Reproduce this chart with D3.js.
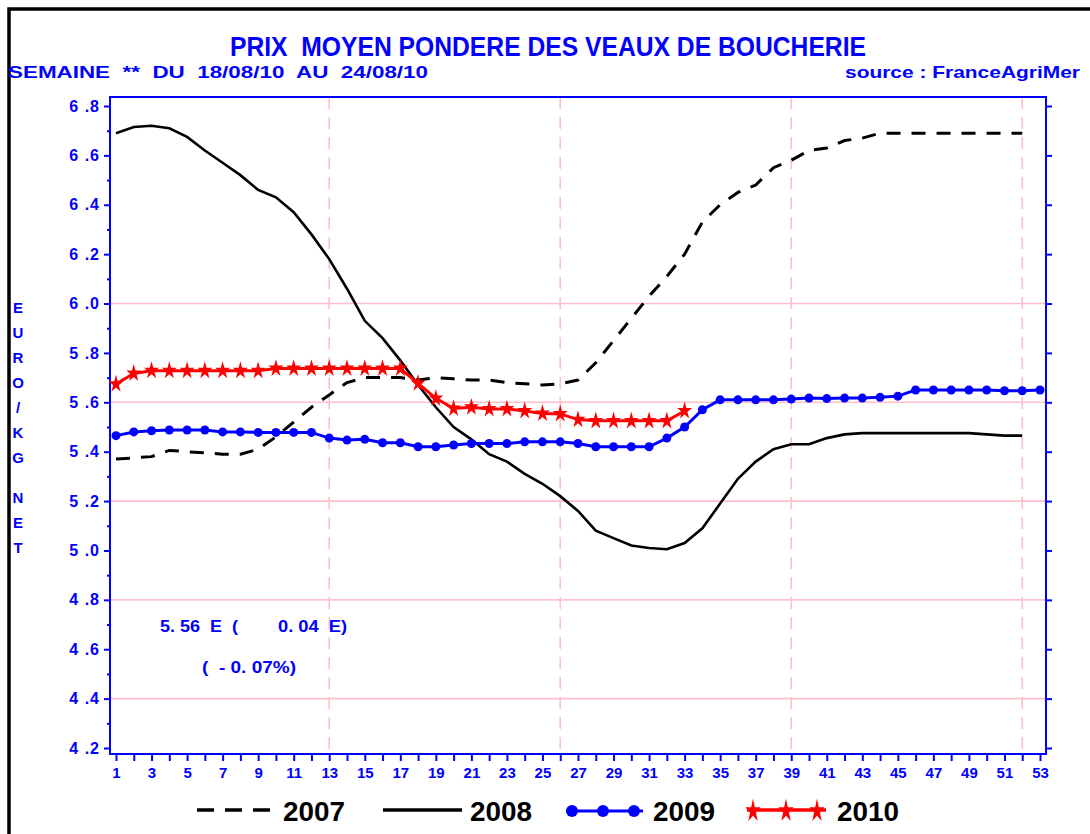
<!DOCTYPE html>
<html>
<head>
<meta charset="utf-8">
<script src="https://cdn.jsdelivr.net/npm/d3@7"></script>
<style>
body { margin:0; background:#fff; }
text { font-family: 'Liberation Sans', Arial, sans-serif; font-weight: bold; }
</style>
</head>
<body>
<div id="chart"></div>
<script>
var chartTitle = 'PRIX  MOYEN PONDERE DES VEAUX DE BOUCHERIE'
var subTitle = 'SEMAINE  **  DU  18/08/10  AU  24/08/10'
var sourceLabel = 'source : FranceAgriMer'
var yAxisLabel = 'EURO/KG NET'

var weekTicks = [1,2,3,4,5,6,7,8,9,10,11,12,13,14,15,16,17,18,19,20,21,22,23,24,25,26,27,
                 28,29,30,31,32,33,34,35,36,37,38,39,40,41,42,43,44,45,46,47,48,49,50,51,52,53]
var weekLabels = [1,3,5,7,9,11,13,15,17,19,21,23,25,27,29,31,33,35,37,39,41,43,45,47,49,51,53]
var quarterWeeks = [13, 26, 39, 52]
var yTicks = [4.2, 4.4, 4.6, 4.8, 5.0, 5.2, 5.4, 5.6, 5.8, 6.0, 6.2, 6.4, 6.6, 6.8]
var yMinorTicks = [4.3, 4.5, 4.7, 4.9, 5.1, 5.3, 5.5, 5.7, 5.9, 6.1, 6.3, 6.5, 6.7]
var gridValues = [4.4, 4.8, 5.2, 5.6, 6.0]

// prix moyen par semaine (euro/kg net)
var price2007 = [5.37, 5.375, 5.38, 5.405, 5.40, 5.395, 5.39, 5.39, 5.41, 5.46,
                 5.52, 5.58, 5.63, 5.68, 5.70, 5.70, 5.70, 5.69, 5.70, 5.695,
                 5.69, 5.69, 5.68, 5.675, 5.67, 5.675, 5.69, 5.76, 5.85, 5.94,
                 6.03, 6.11, 6.20, 6.33, 6.40, 6.45, 6.48, 6.55, 6.58, 6.62,
                 6.63, 6.66, 6.67, 6.69, 6.69, 6.69, 6.69, 6.69, 6.69, 6.69,
                 6.69, 6.69]
var price2008 = [6.69, 6.715, 6.72, 6.71, 6.675, 6.62, 6.57, 6.52, 6.46, 6.43,
                 6.37, 6.28, 6.18, 6.06, 5.93, 5.86, 5.77, 5.67, 5.58, 5.50,
                 5.45, 5.39, 5.36, 5.31, 5.27, 5.22, 5.16, 5.08, 5.05, 5.02,
                 5.01, 5.005, 5.03, 5.09, 5.19, 5.29, 5.36, 5.41, 5.43, 5.43,
                 5.455, 5.47, 5.475, 5.475, 5.475, 5.475, 5.475, 5.475, 5.475, 5.47,
                 5.465, 5.465]
var price2009 = [5.465, 5.48, 5.485, 5.488, 5.488, 5.488, 5.48, 5.48, 5.478, 5.478,
                 5.478, 5.478, 5.455, 5.447, 5.45, 5.436, 5.436, 5.42, 5.42, 5.427,
                 5.433, 5.433, 5.433, 5.44, 5.44, 5.44, 5.433, 5.42, 5.42, 5.42,
                 5.42, 5.455, 5.50, 5.57, 5.61, 5.61, 5.61, 5.61, 5.613, 5.617,
                 5.615, 5.617, 5.617, 5.62, 5.625, 5.65, 5.65, 5.65, 5.65, 5.65,
                 5.647, 5.647, 5.65]
var price2010 = [5.674, 5.717, 5.728, 5.728, 5.728, 5.728, 5.728, 5.728, 5.728, 5.737,
                 5.737, 5.737, 5.737, 5.737, 5.737, 5.737, 5.737, 5.677, 5.616, 5.575,
                 5.58, 5.573, 5.573, 5.565, 5.555, 5.553, 5.53, 5.525, 5.525, 5.525,
                 5.525, 5.525, 5.565]
var seriesNames = ['2007', '2008', '2009', '2010']

var lastPrice = '5. 56  E  ('
var lastChange = '0. 04  E)'
var lastPct = '(  - 0. 07%)'

var blue = '#0000ff', red = '#ff0000', pink = '#ffc0cb';
var svg, xScale, yScale, line;

function GenerateGlobals() {
  svg = d3.select('#chart')
          .append('svg')
          .attr('width', 1090)
          .attr('height', 834);

  xScale = d3.scaleLinear().domain([1, 53]).range([116, 1040]);
  yScale = d3.scaleLinear().domain([4.2, 6.8]).range([748, 106]);

  line = d3.line()
      .x(function(d, i) { return xScale(i + 1); })
      .y(function(d) { return yScale(d); });
}

function DrawStatics() {
  // outer black frame
  svg.append('rect')
     .attr('x', 9).attr('y', 9)
     .attr('width', 1200).attr('height', 1000)
     .attr('fill', 'none').attr('stroke', '#000').attr('stroke-width', 3.5);

  svg.append('text')
     .attr('x', 230).attr('y', 56)
     .attr('textLength', 636).attr('lengthAdjust', 'spacingAndGlyphs')
     .attr('font-size', 27).attr('fill', blue)
     .attr('xml:space', 'preserve')
     .text(chartTitle);

  svg.append('text')
     .attr('x', 8).attr('y', 78)
     .attr('textLength', 420).attr('lengthAdjust', 'spacingAndGlyphs')
     .attr('font-size', 17).attr('fill', blue)
     .attr('xml:space', 'preserve')
     .text(subTitle);

  svg.append('text')
     .attr('x', 845).attr('y', 78)
     .attr('textLength', 235).attr('lengthAdjust', 'spacingAndGlyphs')
     .attr('font-size', 17).attr('fill', blue)
     .attr('xml:space', 'preserve')
     .text(sourceLabel);

  // y label, one letter under the other
  var ly = 313;
  yAxisLabel.split('').forEach(function(c) {
    if (c == ' ') { ly += 15; return; }
    svg.append('text')
       .attr('x', 18).attr('y', ly)
       .attr('text-anchor', 'middle')
       .attr('font-size', 15).attr('fill', blue)
       .text(c);
    ly += 25;
  });

  // grid
  svg.append('g').selectAll('line')
     .data(gridValues).enter().append('line')
     .attr('x1', 110).attr('x2', 1046)
     .attr('y1', function(d) { return yScale(d); })
     .attr('y2', function(d) { return yScale(d); })
     .attr('stroke', pink).attr('stroke-width', 1.6);

  svg.append('g').selectAll('line')
     .data(quarterWeeks).enter().append('line')
     .attr('x1', function(d) { return xScale(d); })
     .attr('x2', function(d) { return xScale(d); })
     .attr('y1', 97).attr('y2', 754)
     .attr('stroke', pink).attr('stroke-width', 1.6)
     .attr('stroke-dasharray', '12,8');

  // frame
  svg.append('rect')
     .attr('x', 110).attr('y', 97)
     .attr('width', 936).attr('height', 657)
     .attr('fill', 'none').attr('stroke', blue).attr('stroke-width', 2);

  // left axis
  var yAxis = d3.axisLeft(yScale).tickValues(yTicks).tickSize(6).tickPadding(4)
      .tickFormat(function(d) { return d.toFixed(1).replace('.', ' .'); });
  var ya = svg.append('g').attr('transform', 'translate(110,0)').call(yAxis);
  ya.select('.domain').remove();
  ya.selectAll('line').attr('stroke', blue).attr('stroke-width', 2);
  ya.selectAll('text').attr('fill', blue).attr('font-size', 16)
    .attr('font-family', null).style('letter-spacing', '1px');

  var yMinor = d3.axisLeft(yScale).tickValues(yMinorTicks).tickSize(3).tickFormat('');
  var ym = svg.append('g').attr('transform', 'translate(110,0)').call(yMinor);
  ym.select('.domain').remove();
  ym.selectAll('line').attr('stroke', blue).attr('stroke-width', 2);

  // right axis
  var yRight = d3.axisRight(yScale).tickValues(yTicks).tickSize(6).tickFormat('');
  var yr = svg.append('g').attr('transform', 'translate(1046,0)').call(yRight);
  yr.select('.domain').remove();
  yr.selectAll('line').attr('stroke', blue).attr('stroke-width', 2);

  // bottom axis
  var xAxis = d3.axisBottom(xScale).tickValues(weekTicks).tickSize(7).tickPadding(6)
      .tickFormat(function(d) { return weekLabels.indexOf(d) >= 0 ? d : ''; });
  var xa = svg.append('g').attr('transform', 'translate(0,754)').call(xAxis);
  xa.select('.domain').remove();
  xa.selectAll('line').attr('stroke', blue).attr('stroke-width', 2);
  xa.selectAll('text').attr('fill', blue).attr('font-size', 15).attr('font-family', null);

  // last week note
  svg.append('text').attr('x', 160).attr('y', 632)
     .attr('textLength', 78).attr('lengthAdjust', 'spacingAndGlyphs')
     .attr('font-size', 16).attr('fill', blue).attr('xml:space', 'preserve')
     .text(lastPrice);
  svg.append('text').attr('x', 278).attr('y', 632)
     .attr('textLength', 69).attr('lengthAdjust', 'spacingAndGlyphs')
     .attr('font-size', 16).attr('fill', blue).attr('xml:space', 'preserve')
     .text(lastChange);
  svg.append('text').attr('x', 202).attr('y', 673)
     .attr('textLength', 94).attr('lengthAdjust', 'spacingAndGlyphs')
     .attr('font-size', 16).attr('fill', blue).attr('xml:space', 'preserve')
     .text(lastPct);
}

function starPath(size) {
  return d3.symbol().type(d3.symbolStar).size(size)();
}

function DrawData() {
  svg.append('path').datum(price2007)
     .attr('d', line).attr('fill', 'none')
     .attr('stroke', '#000').attr('stroke-width', 3)
     .attr('stroke-dasharray', '14,11');

  svg.append('path').datum(price2008)
     .attr('d', line).attr('fill', 'none')
     .attr('stroke', '#000').attr('stroke-width', 2.6);

  svg.append('path').datum(price2009)
     .attr('d', line).attr('fill', 'none')
     .attr('stroke', blue).attr('stroke-width', 3);
  svg.append('g').selectAll('circle')
     .data(price2009).enter().append('circle')
     .attr('cx', function(d, i) { return xScale(i + 1); })
     .attr('cy', function(d) { return yScale(d); })
     .attr('r', 4.5).attr('fill', blue);

  svg.append('path').datum(price2010)
     .attr('d', line).attr('fill', 'none')
     .attr('stroke', red).attr('stroke-width', 3);
  svg.append('g').selectAll('path')
     .data(price2010).enter().append('path')
     .attr('d', starPath(68))
     .attr('transform', function(d, i) {
        return 'translate(' + xScale(i + 1) + ',' + yScale(d) + ') scale(1,1.2)';
     })
     .attr('fill', red);
}

function DrawLegend() {
  var ly = 810, ty = 821;
  var items = [
    {x1: 197, x2: 272, tx: 283},
    {x1: 383, x2: 462, tx: 470},
    {x1: 566, x2: 643, tx: 653},
    {x1: 747, x2: 826, tx: 837}
  ];
  var lg = svg.append('g').attr('class', 'legendG');

  lg.append('line').attr('x1', items[0].x1).attr('x2', items[0].x2)
    .attr('y1', ly).attr('y2', ly)
    .attr('stroke', '#000').attr('stroke-width', 3.5).attr('stroke-dasharray', '17,11');
  lg.append('line').attr('x1', items[1].x1).attr('x2', items[1].x2)
    .attr('y1', ly).attr('y2', ly)
    .attr('stroke', '#000').attr('stroke-width', 3.5);

  lg.append('line').attr('x1', items[2].x1).attr('x2', items[2].x2)
    .attr('y1', ly + 1).attr('y2', ly + 1)
    .attr('stroke', blue).attr('stroke-width', 3);
  [572, 603, 634].forEach(function(cx) {
    lg.append('circle').attr('cx', cx).attr('cy', ly + 1).attr('r', 6).attr('fill', blue);
  });

  lg.append('line').attr('x1', items[3].x1).attr('x2', items[3].x2)
    .attr('y1', ly).attr('y2', ly)
    .attr('stroke', red).attr('stroke-width', 3.5);
  [753, 786, 817].forEach(function(cx) {
    lg.append('path').attr('d', starPath(72))
      .attr('transform', 'translate(' + cx + ',' + (ly + 1) + ') scale(1,1.55)')
      .attr('fill', red);
  });

  lg.selectAll('.legendText')
    .data(seriesNames).enter().append('text')
    .attr('class', 'legendText')
    .attr('x', function(d, i) { return items[i].tx; })
    .attr('y', ty)
    .attr('textLength', 62).attr('lengthAdjust', 'spacingAndGlyphs')
    .attr('font-size', 28).attr('fill', '#000')
    .text(function(d) { return d; });
}

function DrawChart() {
  GenerateGlobals();
  DrawStatics();
  DrawData();
  DrawLegend();
}

DrawChart();
</script>
</body>
</html>
